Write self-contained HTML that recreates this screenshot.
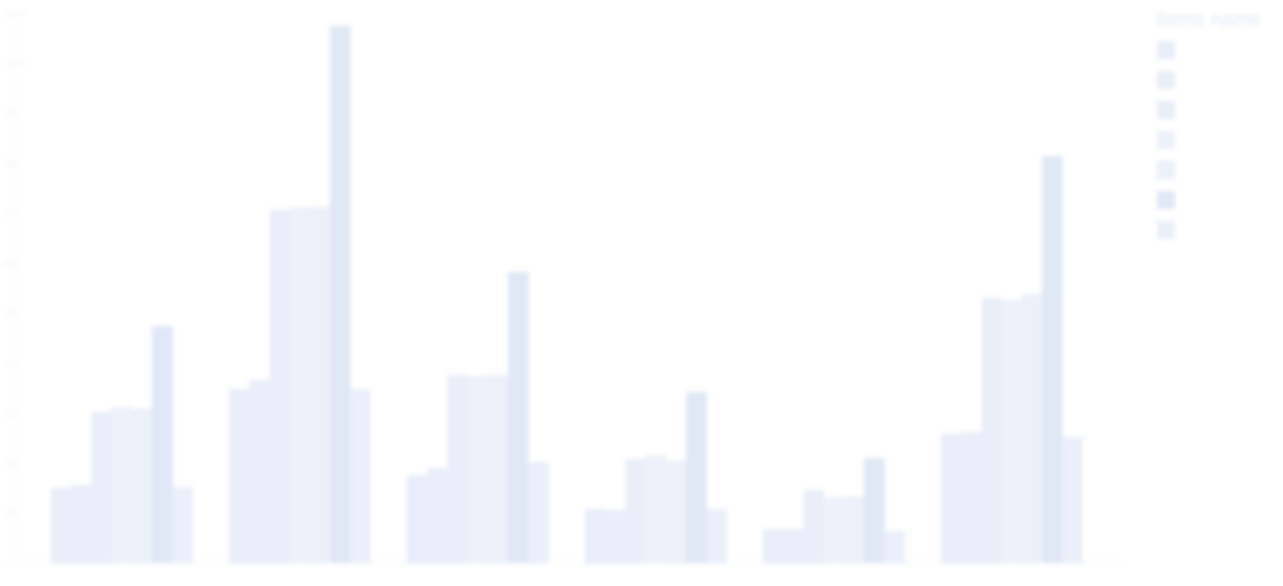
<!DOCTYPE html>
<html><head><meta charset="utf-8"><style>
html,body{margin:0;padding:0;background:#fff;}
body{width:1283px;height:581px;overflow:hidden;font-family:"Liberation Sans",sans-serif;}
svg{filter:blur(2.5px);}
</style></head><body>
<svg id="chart" width="1283" height="581" xmlns="http://www.w3.org/2000/svg">
<g id="axis"></g>
<g id="bars"></g>
<g id="legend">
<text x="1156" y="26" font-size="20" fill="#e3e9f5">Items name</text>
</g>
</svg>
<script>
const categories=["A","B","C","D","E","F"];
const s1=[150,348,176,108,68,258];
const s2=[156,366,190,106,68,262];
const s3=[302,706,376,208,146,530];
const s4=[312,712,374,216,132,526];
const s5=[308,712,376,204,132,538];
const s6=[474,1074,582,342,210,814];
const s7=[152,348,202,108,64,252];
const series=[s1,s2,s3,s4,s5,s6,s7];
const colors=["#e8edf8","#e9eef8","#e9eef8","#edf1f9","#ebf0f9","#e0e7f5","#eaeff9"];
const ticks=[0,100,200,300,400,500,600,700,800,900,1000,1100];
const NS="http://www.w3.org/2000/svg";
const base=563, top0=13, maxV=1100;
function y(v){return base-(v/maxV)*(base-top0);}
function gx(i){return 51+i*178;}
const bw=20.2;
const axis=document.getElementById('axis');
ticks.forEach(t=>{
 const tx=document.createElementNS(NS,'text');
 tx.setAttribute('x',4);tx.setAttribute('y',y(t)+4);tx.setAttribute('font-size','10');tx.setAttribute('fill','#f4f6fb');
 tx.textContent=t;
 
 
 axis.appendChild(tx);
});
const ln=document.createElementNS(NS,'line');
ln.setAttribute('x1',13);ln.setAttribute('x2',13);ln.setAttribute('y1',top0);ln.setAttribute('y2',base);ln.setAttribute('stroke','#f3f5fa');


axis.appendChild(ln);
const bl=document.createElementNS(NS,'line');
bl.setAttribute('x1',13);bl.setAttribute('x2',1120);bl.setAttribute('y1',base);bl.setAttribute('y2',base);bl.setAttribute('stroke','#f3f5fa');


axis.appendChild(bl);
const bars=document.getElementById('bars');
categories.forEach((c,i)=>{
 series.forEach((s,j)=>{
  const r=document.createElementNS(NS,'rect');
  r.setAttribute('x',gx(i)+j*bw);r.setAttribute('width',bw+0.5);
  r.setAttribute('y',y(s[i]));r.setAttribute('height',base-y(s[i]));
  r.setAttribute('fill',colors[j]);
  
  
  bars.appendChild(r);
 });
});
const legend=document.getElementById('legend');
colors.forEach((c,j)=>{
 const r=document.createElementNS(NS,'rect');
 r.setAttribute('x',1157);r.setAttribute('y',41+j*30);r.setAttribute('width',18);r.setAttribute('height',18);
 r.setAttribute('fill',c);
 
 
 legend.appendChild(r);
});
</script>
</body></html>
